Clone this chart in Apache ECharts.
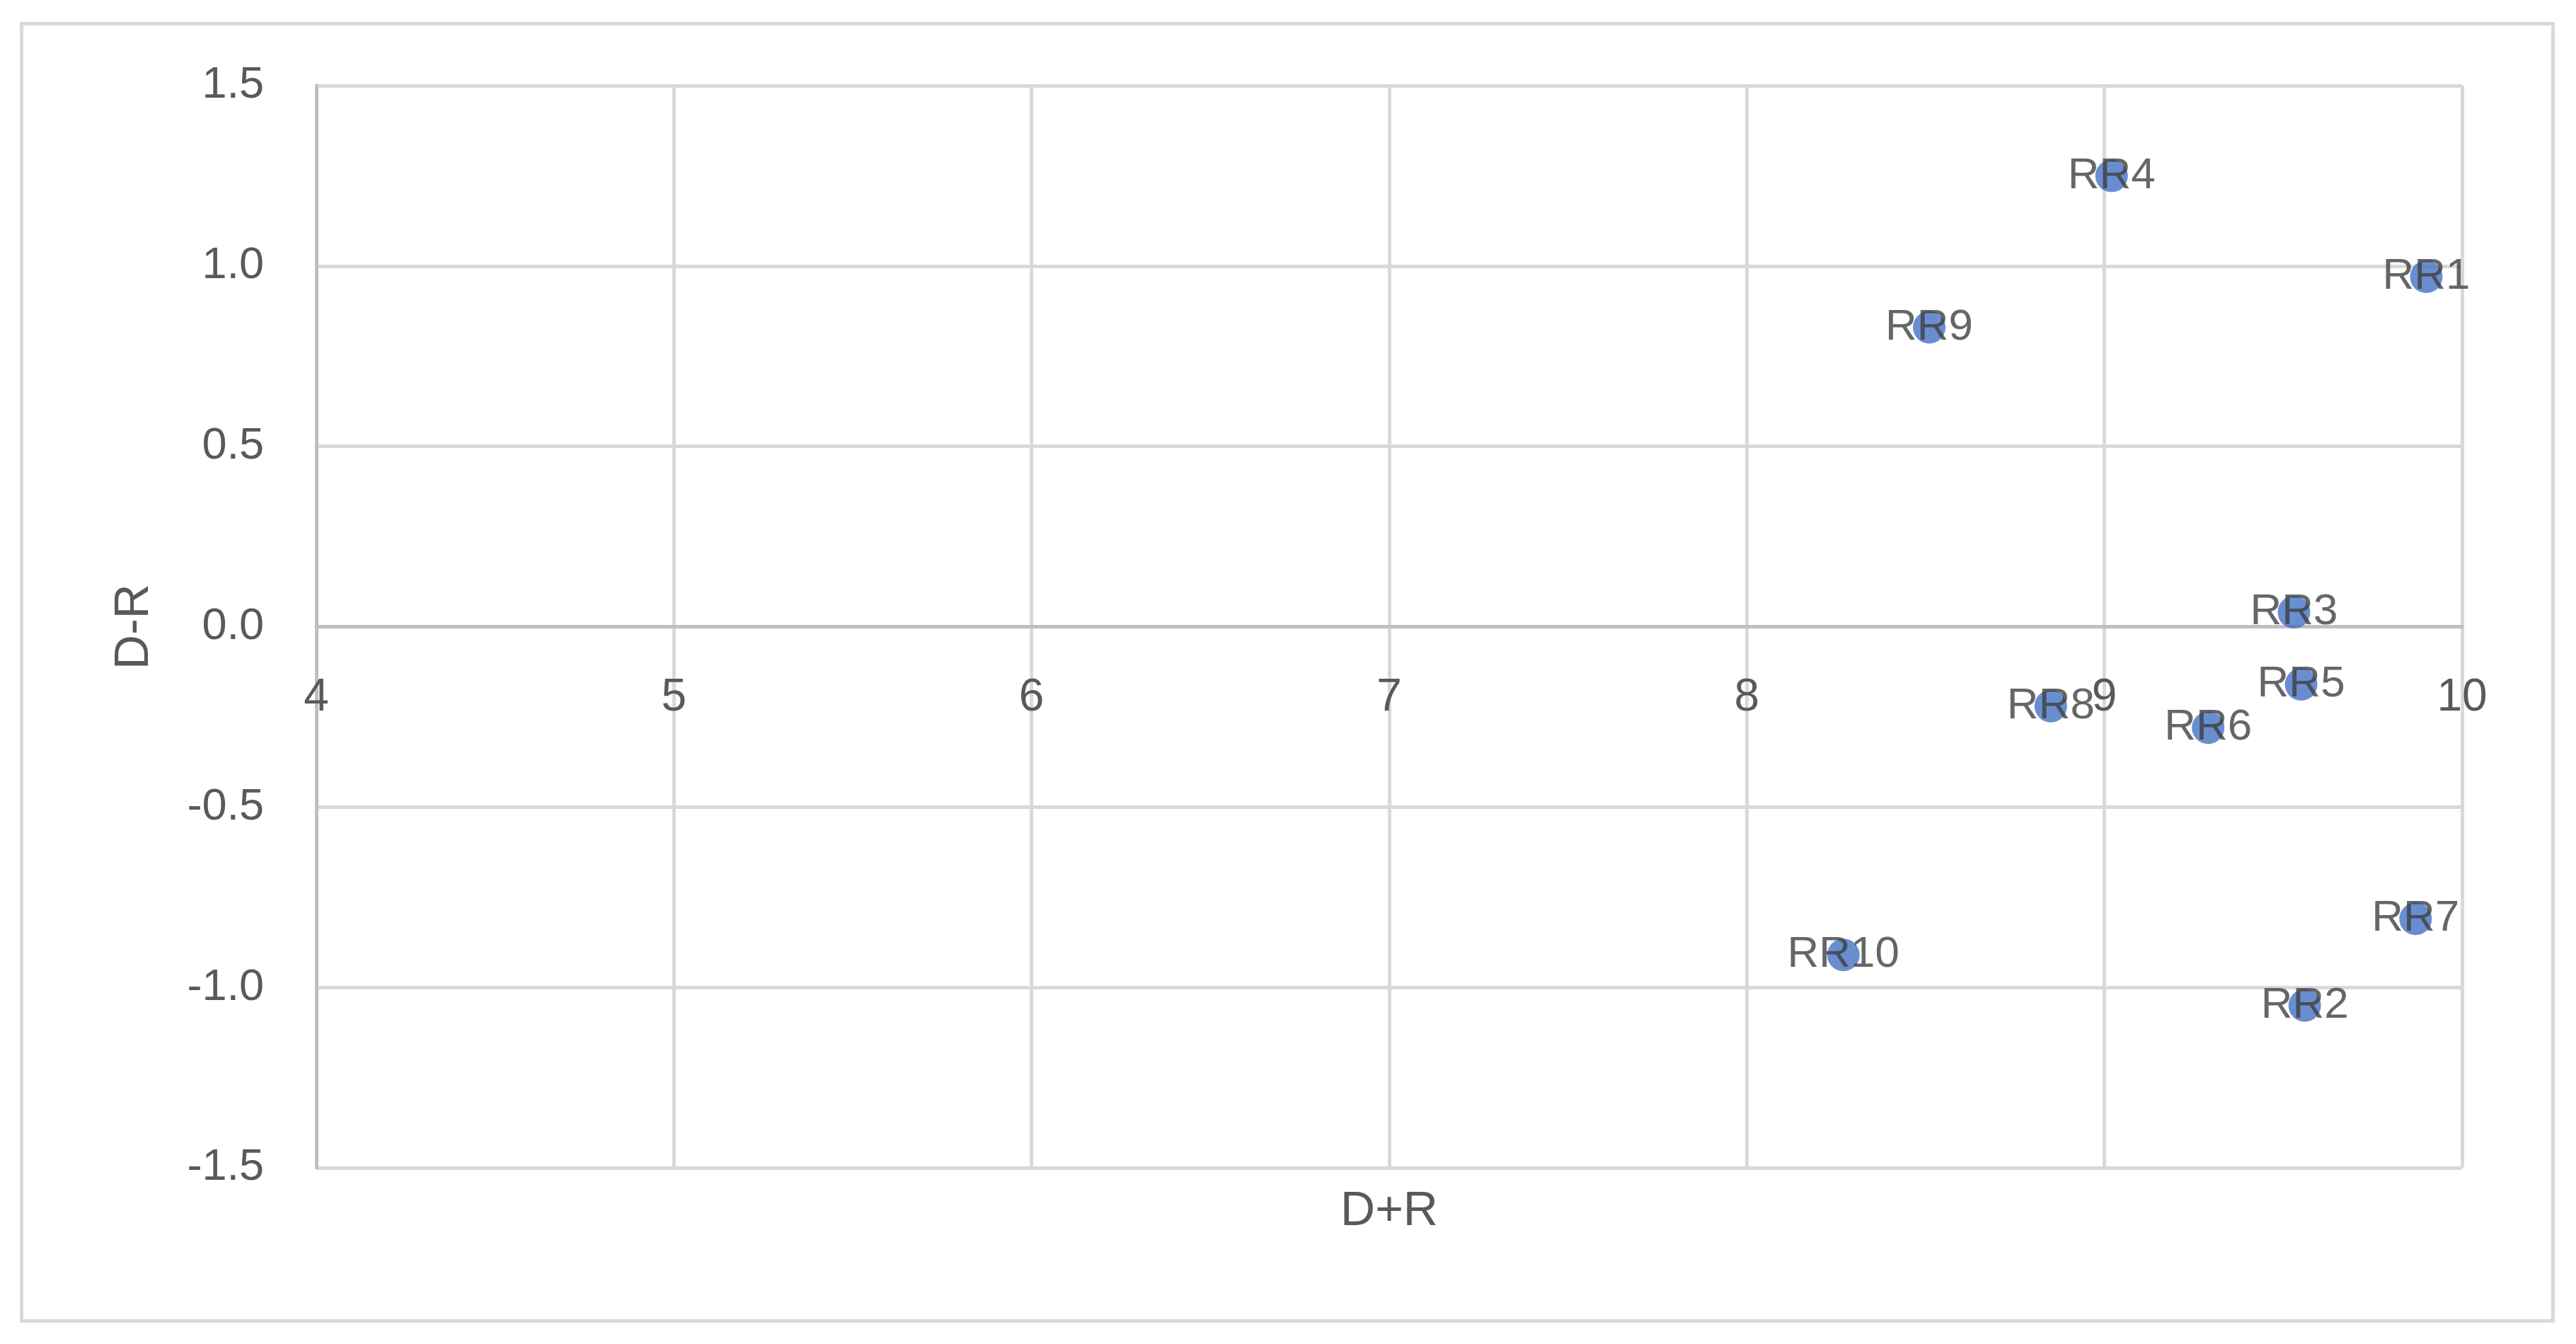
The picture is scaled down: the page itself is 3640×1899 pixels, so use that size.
<!DOCTYPE html>
<html>
<head>
<meta charset="utf-8">
<script src="https://cdn.jsdelivr.net/npm/echarts@6/dist/echarts.min.js"></script>
<style>
    html, body { margin: 0; padding: 0; background: #fff; }
    #chart { width: 3640px; height: 1899px; }
    #frame {
        position: absolute; left: 28px; top: 31px;
        width: 3572px; height: 1828px;
        border: 5px solid #d9d9d9; pointer-events: none;
    }
</style>
</head>
<body>
<div id="chart"></div>
<div id="frame"></div>
<script>
    // RR points: x = D+R, y = D-R
    const names = ['RR1', 'RR2', 'RR3', 'RR4', 'RR5', 'RR6', 'RR7', 'RR8', 'RR9', 'RR10'];
    const dPlusR = [9.90, 9.56, 9.53, 9.02, 9.55, 9.29, 9.87, 8.85, 8.51, 8.27];
    const dMinusR = [0.97, -1.05, 0.04, 1.25, -0.16, -0.28, -0.81, -0.22, 0.83, -0.91];

    const font = "'Liberation Sans', Arial, sans-serif";

    let myChart = echarts.init(document.getElementById('chart'));
    let option = {
        animation: false,
        grid: {
            left: 447,
            right: 161,
            top: 121,
            bottom: 249,
            containLabel: false,
            outerBoundsMode: 'none'
        },
        xAxis: {
            type: 'value',
            min: 4,
            max: 10,
            interval: 1,
            name: 'D+R',
            nameLocation: 'middle',
            nameGap: 28,
            nameTextStyle: { fontFamily: font, fontSize: 68, color: '#595959' },
            axisLine: { show: true, onZero: true, lineStyle: { color: '#bfbfbf', width: 5 } },
            axisTick: { show: false },
            axisLabel: {
                // labels sit just under the y = 0 line, as in the original
                fontFamily: font, fontSize: 64, color: '#595959', margin: -696
            },
            splitLine: { show: true, lineStyle: { color: '#d9d9d9', width: 5 } }
        },
        yAxis: {
            type: 'value',
            min: -1.5,
            max: 1.5,
            interval: 0.5,
            name: 'D-R',
            nameLocation: 'middle',
            nameRotate: 90,
            nameGap: 223,
            nameTextStyle: { fontFamily: font, fontSize: 68, color: '#595959' },
            axisLine: { show: true, onZero: false, lineStyle: { color: '#bfbfbf', width: 5 } },
            axisTick: { show: false },
            axisLabel: {
                fontFamily: font, fontSize: 63, color: '#595959', margin: 74,
                formatter: v => v.toFixed(1)
            },
            splitLine: { show: true, lineStyle: { color: '#d9d9d9', width: 5 } }
        },
        series: [
            {
                type: 'scatter',
                symbolSize: 46,
                itemStyle: { color: '#4472C4' },
                data: names.map((n, i) => ({ name: n, value: [dPlusR[i], dMinusR[i]] })),
                label: {
                    show: true,
                    position: 'inside',
                    formatter: '{b}',
                    fontFamily: font,
                    fontSize: 62,
                    color: '#404040'
                }
            }
        ]
    };
    myChart.setOption(option);
</script>
</body>
</html>
